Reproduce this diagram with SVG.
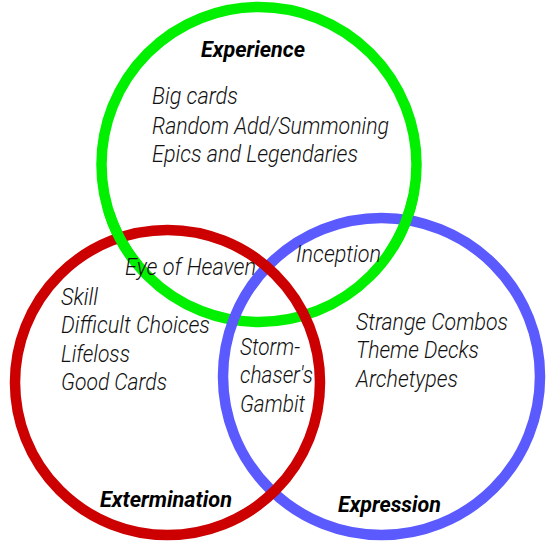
<svg xmlns="http://www.w3.org/2000/svg" width="548" height="548" viewBox="0 0 548 548">
<style>
.ring{fill:none;stroke-width:10.5}
.g{stroke:#00f000}
.r{stroke:#cc0000}
.b{stroke:#5a5aff}
.t{font-family:Roboto,"Liberation Sans",sans-serif;font-style:italic;font-weight:300;font-size:23px;fill:#111}
.h{font-family:Roboto,"Liberation Sans",sans-serif;font-style:italic;font-weight:700;font-size:21.5px;fill:#000}
</style>
<defs>
<clipPath id="cg">
<rect x="92" y="212" width="50" height="55"/>
<rect x="383" y="198" width="45" height="52"/>
</clipPath>
</defs>
<rect width="548" height="548" fill="#fff"/>
<g id="experience">
<circle class="ring g" cx="259" cy="164.5" r="157.5"/>
</g>
<g id="expression">
<circle class="ring b" cx="381.5" cy="376.5" r="158.5"/>
</g>
<g id="extermination">
<circle class="ring r" cx="167.5" cy="382.5" r="152.5"/>
</g>
<g id="experience-over">
<circle class="ring g" cx="259" cy="164.5" r="157.5" clip-path="url(#cg)"/>
</g>
<g id="labels">
<text class="h" x="201" y="57" textLength="104" lengthAdjust="spacingAndGlyphs">Experience</text>
<text class="t" x="152" y="104" textLength="86" lengthAdjust="spacingAndGlyphs">Big cards</text>
<text class="t" x="152" y="134" textLength="237" lengthAdjust="spacingAndGlyphs">Random Add/Summoning</text>
<text class="t" x="152" y="162" textLength="206" lengthAdjust="spacingAndGlyphs">Epics and Legendaries</text>
<text class="t" x="125" y="275" textLength="131" lengthAdjust="spacingAndGlyphs">Eye of Heaven</text>
<text class="t" x="296" y="262" textLength="85" lengthAdjust="spacingAndGlyphs">Inception</text>
<text class="t" x="61" y="305" textLength="37" lengthAdjust="spacingAndGlyphs">Skill</text>
<text class="t" x="61" y="333" textLength="149" lengthAdjust="spacingAndGlyphs">Difficult Choices</text>
<text class="t" x="61" y="362" textLength="69" lengthAdjust="spacingAndGlyphs">Lifeloss</text>
<text class="t" x="61" y="390" textLength="106" lengthAdjust="spacingAndGlyphs">Good Cards</text>
<text class="t" x="240" y="355" textLength="60" lengthAdjust="spacingAndGlyphs">Storm-</text>
<text class="t" x="240" y="383" textLength="73" lengthAdjust="spacingAndGlyphs">chaser's</text>
<text class="t" x="240" y="412" textLength="65" lengthAdjust="spacingAndGlyphs">Gambit</text>
<text class="t" x="356" y="330" textLength="152" lengthAdjust="spacingAndGlyphs">Strange Combos</text>
<text class="t" x="356" y="358" textLength="123" lengthAdjust="spacingAndGlyphs">Theme Decks</text>
<text class="t" x="356" y="387" textLength="102" lengthAdjust="spacingAndGlyphs">Archetypes</text>
<text class="h" x="100" y="507" textLength="132" lengthAdjust="spacingAndGlyphs">Extermination</text>
<text class="h" x="338" y="512" textLength="103" lengthAdjust="spacingAndGlyphs">Expression</text>
</g>
</svg>
